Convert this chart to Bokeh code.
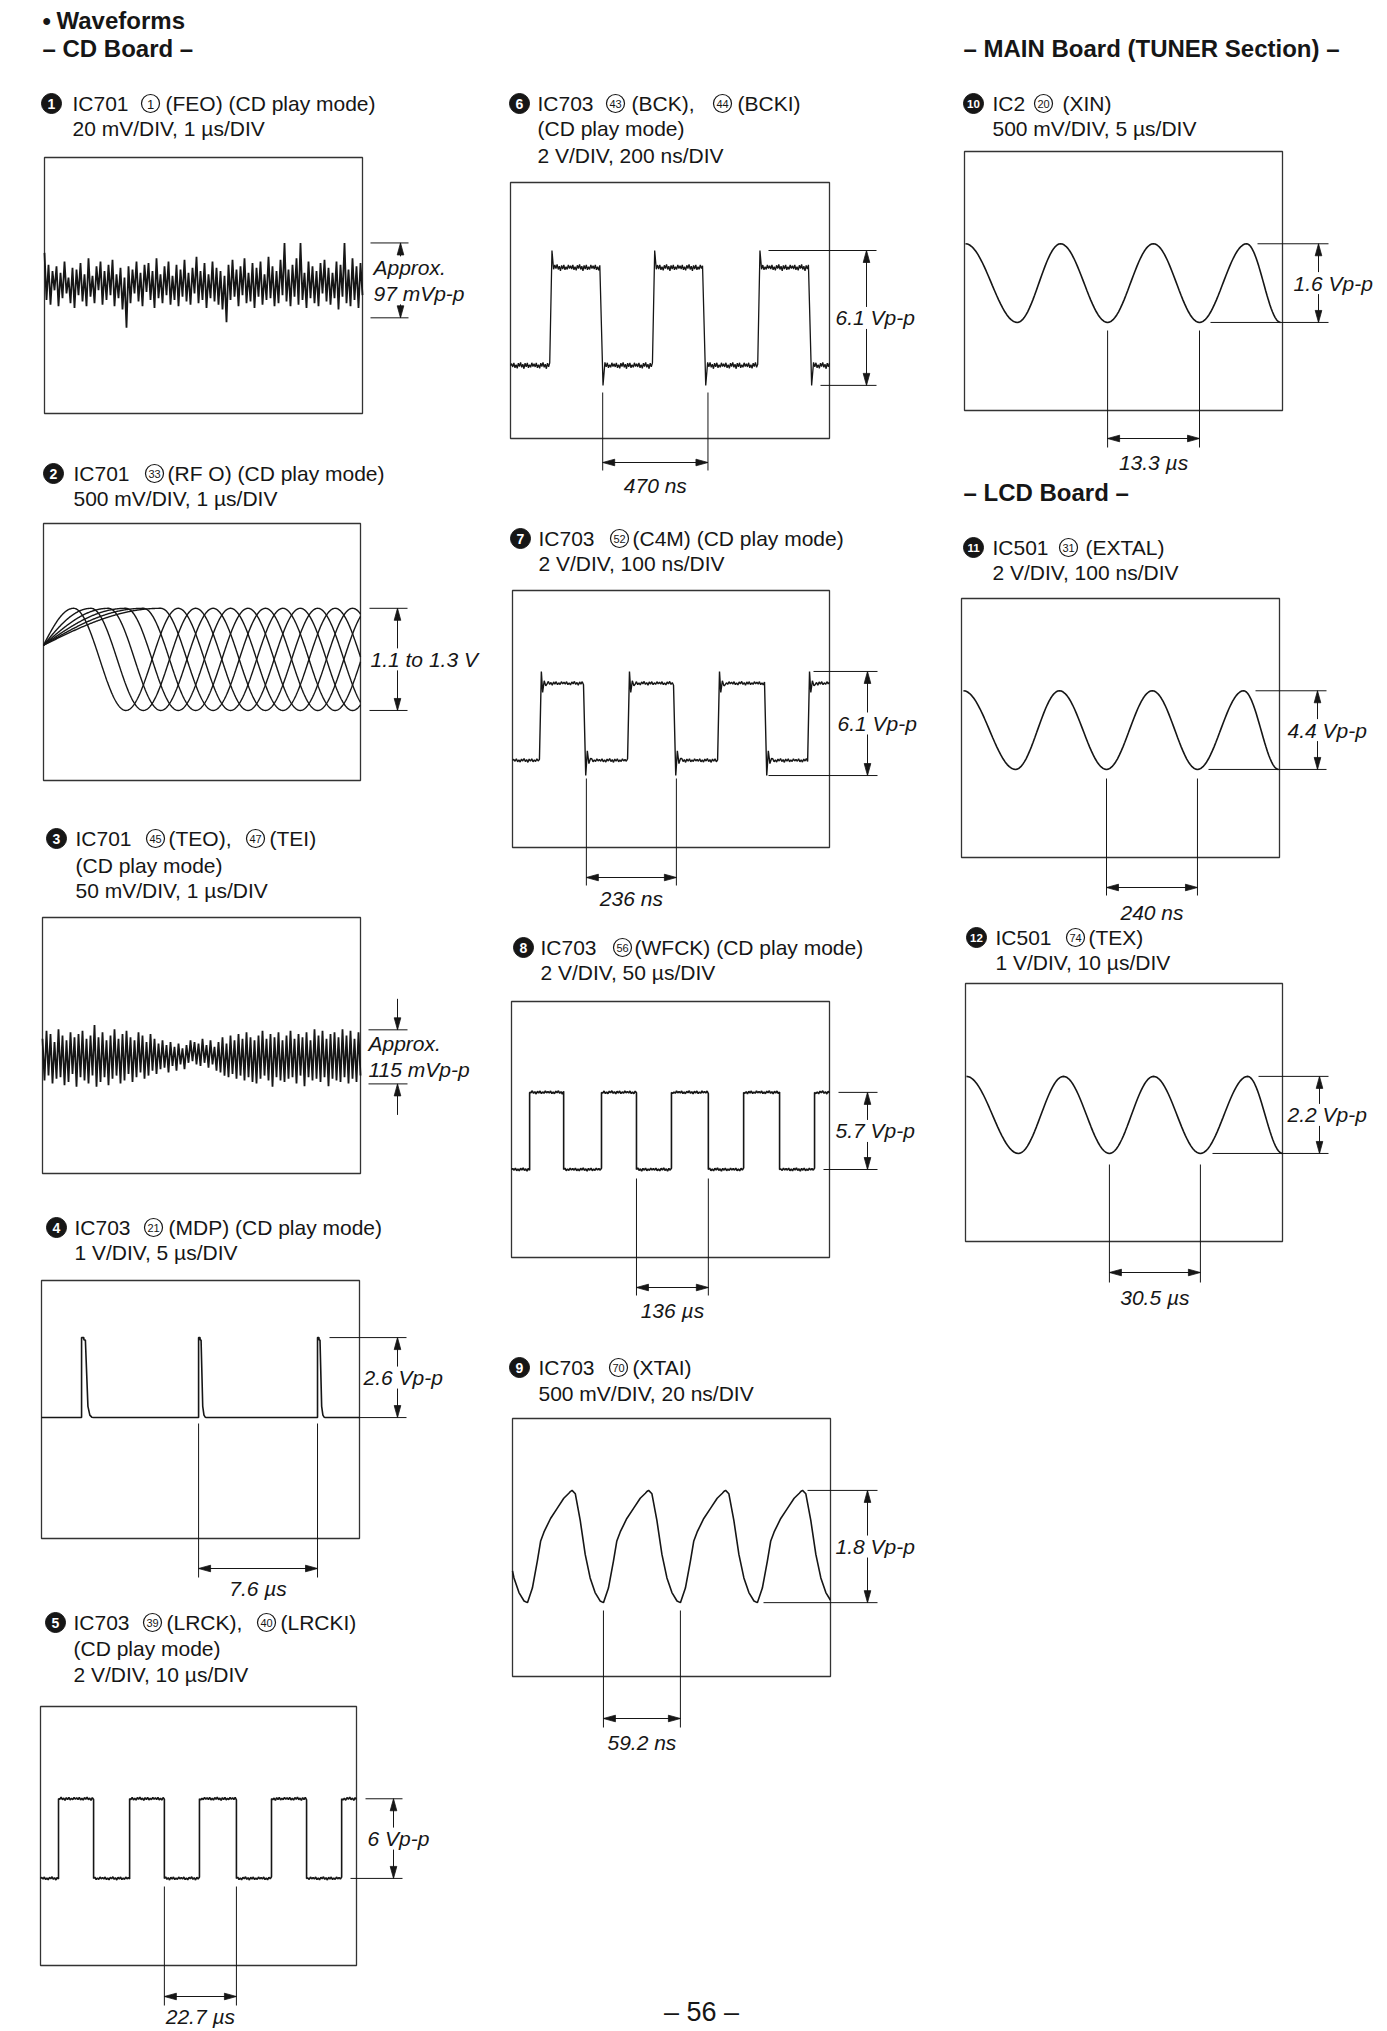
import numpy as np
from bokeh.plotting import figure
from bokeh.layouts import column, row
from bokeh.models import Range1d
from bokeh.core.properties import value
from bokeh.embed import file_html
from bokeh.resources import INLINE

FONT = "Liberation Sans"
INK = "#161616"
FRAME = "#333333"
TITLE_SIZE = "21px"
HEAD_SIZE = "24px"
LABEL_SIZE = "21px"

# ---------------- values read from the page (scope units: 10 x 8 divisions) ----------------
# 1  IC701 (FEO) noise, offsets in 0.01 div around the centre line
FEO_CENTER = 4.05
FEO_LEVELS = [5.33, 2.99]
FEO_NOISE = [97, -50, 60, -65, 40, -20, 55, -70, 35, -45, 70, -30, 20, -60, 50, -75, 45, -35, 65, -55,
             30, -70, 80, -40, 25, -60, 55, -20, 70, -65, 40, -50, 60, -35, 75, -70, 30, -45, 50, -80,
             20, -137, 55, -60, 45, -30, 70, -55, 35, -70, 60, -25, 65, -50, 40, -75, 80, -45, 30, -60,
             55, -35, 70, -65, 25, -50, 60, -70, 45, -40, 75, -55, 35, -65, 50, -30, 85, -60, 40, -50,
             65, -75, 30, -45, 70, -55, 50, -65, 40, -80, 25, -120, 60, -50, 75, -40, 45, -70, 55, -35,
             80, -60, 35, -55, 65, -75, 50, -40, 70, -65, 30, -50, 85, -45, 55, -70, 40, -60, 75, -35,
             128, -55, 45, -70, 60, -40, 80, -65, 128, -50, 35, -75, 70, -45, 55, -60, 40, -70, 65, -30,
             75, -55, 50, -65, 35, -45, 70, -80, 60, -40, 128, -60, 45, -70, 80, -50, 55, -75, 65, -35]

# 2  IC701 (RF O) eye pattern
RF_TOP, RF_BOTTOM = 5.36, 2.18
RF_START = 4.21
RF_FIRST_PEAK = 0.95
RF_PERIOD = 3.3
RF_TRACES = 6

# 3  IC701 (TEO)/(TEI) noise
TEO_CENTER = 3.61
TEO_LEVELS = [4.49, 2.80]
TEO_NOISE = [60, -70, 85, -55, 75, -80, 50, -65, 90, -60, 70, -85, 55, -75, 80, -50, 65, -90, 75, -60,
             85, -70, 60, -80, 70, -55, 103, -90, 65, -75, 80, -60, 55, -85, 70, -65, 90, -55, 60, -80,
             75, -70, 85, -50, 65, -75, 55, -60, 80, -45, 70, -65, 50, -55, 75, -40, 60, -50, 45, -35,
             55, -30, 40, -45, 50, -25, 35, -40, 45, -20, 30, -35, 40, -15, 55, -10, 50, -20, 45, -25,
             60, -15, 40, -30, 55, -20, 35, -40, 50, -45, 65, -55, 45, -60, 70, -50, 55, -65, 75, -55,
             60, -70, 80, -60, 65, -75, 55, -80, 70, -65, 85, -55, 60, -70, 75, -90, 65, -60, 80, -70,
             55, -75, 70, -65, 85, -60, 60, -80, 75, -55, 65, -88, 80, -60, 55, -70, 90, -65, 70, -75,
             85, -60, 60, -88, 75, -65, 80, -70, 65, -75, 90, -60, 70, -80, 85, -65, 60, -75, 80, -55]

# 4  IC703 (MDP) pulses
MDP_BASE, MDP_TOP = 3.75, 6.23
MDP_RISES = [1.26, 4.94, 8.68]
MDP_WIDTHS = [1.0, 0.65, 0.65]
PULSE_DX = [0.0, 0.07, 0.075, 0.12, 0.20, 0.26, 0.32, 0.38]
PULSE_LEVEL = [1.0, 1.0, 0.97, 0.97, 0.14, 0.03, 0.005, 0.0]

# 5  IC703 (LRCK)
LRCK_HIGH, LRCK_LOW = 5.15, 2.69
LRCK_EDGES = [0.57, 1.68, 2.82, 3.92, 5.03, 6.20, 7.31, 8.42, 9.53]
LRCK_MARKS = [3.92, 6.20]

# 6  IC703 (BCK)
BCK_HIGH, BCK_LOW, BCK_OVER, BCK_UNDER = 5.34, 2.28, 5.875, 1.66
BCK_EDGES = [1.23, 2.80, 4.45, 6.02, 7.75, 9.34]
BCK_MARKS = [2.89, 6.19]

# 7  IC703 (C4M)
C4M_HIGH, C4M_LOW, C4M_OVER, C4M_UNDER = 5.11, 2.71, 5.48, 2.24
C4M_EDGES = [0.85, 2.24, 3.63, 5.08, 6.47, 7.95, 9.31]
C4M_MARKS = [2.33, 5.17]

# 8  IC703 (WFCK)
WFCK_HIGH, WFCK_LOW = 5.16, 2.75
WFCK_EDGES = [0.57, 1.64, 2.83, 3.93, 5.03, 6.19, 7.30, 8.43, 9.53]
WFCK_MARKS = [3.93, 6.19]

# 9  IC703 (XTAI): one period (phase fraction -> level fraction)
XTAI_PEAK, XTAI_TROUGH = 5.77, 2.29
XTAI_TROUGHS = [0.47, 2.86, 5.28, 7.70]
XTAI_PERIOD = 2.42
XTAI_PHASE = [0.0, 0.065, 0.13, 0.174, 0.218, 0.304, 0.391, 0.478, 0.545, 0.565, 0.587, 0.63,
              0.695, 0.76, 0.825, 0.89, 0.956, 1.0]
XTAI_LEVEL = [0.0, 0.13, 0.37, 0.55, 0.63, 0.75, 0.84, 0.93, 0.975, 0.99, 1.0, 0.97,
              0.73, 0.43, 0.22, 0.09, 0.015, 0.0]
XTAI_MARKS = [2.86, 5.28]

# 10-12 sine waves: x of successive peak / trough
XIN_PEAK, XIN_TROUGH = 5.15, 2.72
XIN_EXTREMA = [0.03, 1.66, 3.02, 4.50, 5.94, 7.39, 8.87, 9.94]
EXTAL_PEAK, EXTAL_TROUGH = 5.15, 2.72
EXTAL_EXTREMA = [0.06, 1.70, 3.08, 4.56, 6.00, 7.42, 8.87, 9.97]
TEX_PEAK, TEX_TROUGH = 5.12, 2.73
TEX_EXTREMA = [0.03, 1.67, 3.09, 4.54, 5.93, 7.41, 8.90, 10.0]

FLAT_NOISE = [4, -3, 6, -5, 2, -6, 5, -2, 7, -4, 3, -7, 5, -3, 6, -5, 2, -4, 6, -2]

# ---------------- page layout (page pixels) ----------------
PANELS = {
    1: dict(fig=(0, 0, 490, 440), box=(44, 157, 318, 256), bullet=(51, 103, "1"),
            texts=[(72, 103, "IC701"), (165, 103, "(FEO) (CD play mode)"), (72, 128, "20 mV/DIV, 1 µs/DIV")],
            rings=[(150, 103, "1")]),
    2: dict(fig=(0, 440, 490, 360), box=(43, 523, 317, 257), bullet=(53, 473, "2"),
            texts=[(73, 473, "IC701"), (167, 473, "(RF O) (CD play mode)"), (73, 498, "500 mV/DIV, 1 µs/DIV")],
            rings=[(154, 473, "33")]),
    3: dict(fig=(0, 800, 490, 390), box=(42, 917, 318, 256), bullet=(56, 838, "3"),
            texts=[(75, 838, "IC701"), (168, 838, "(TEO),"), (269, 838, "(TEI)"),
                   (75, 865, "(CD play mode)"), (75, 890, "50 mV/DIV, 1 µs/DIV")],
            rings=[(155, 838, "45"), (255, 838, "47")]),
    4: dict(fig=(0, 1190, 490, 414), box=(41, 1280, 318, 258), bullet=(56, 1227, "4"),
            texts=[(74, 1227, "IC703"), (168, 1227, "(MDP) (CD play mode)"), (74, 1252, "1 V/DIV, 5 µs/DIV")],
            rings=[(153, 1227, "21")]),
    5: dict(fig=(0, 1604, 490, 425), box=(40, 1706, 316, 259), bullet=(55, 1622, "5"),
            texts=[(73, 1622, "IC703"), (166, 1622, "(LRCK),"), (280, 1622, "(LRCKI)"),
                   (73, 1648, "(CD play mode)"), (73, 1674, "2 V/DIV, 10 µs/DIV")],
            rings=[(152, 1622, "39"), (266, 1622, "40")]),
    6: dict(fig=(490, 0, 440, 505), box=(510, 182, 319, 256), bullet=(519, 103, "6"),
            texts=[(537, 103, "IC703"), (631, 103, "(BCK),"), (737, 103, "(BCKI)"),
                   (537, 128, "(CD play mode)"), (537, 155, "2 V/DIV, 200 ns/DIV")],
            rings=[(615, 103, "43"), (722, 103, "44")]),
    7: dict(fig=(490, 505, 440, 410), box=(512, 590, 317, 257), bullet=(520, 538, "7"),
            texts=[(538, 538, "IC703"), (632, 538, "(C4M) (CD play mode)"), (538, 563, "2 V/DIV, 100 ns/DIV")],
            rings=[(619, 538, "52")]),
    8: dict(fig=(490, 915, 440, 415), box=(511, 1001, 318, 256), bullet=(523, 947, "8"),
            texts=[(540, 947, "IC703"), (634, 947, "(WFCK) (CD play mode)"), (540, 972, "2 V/DIV, 50 µs/DIV")],
            rings=[(622, 947, "56")]),
    9: dict(fig=(490, 1330, 440, 699), box=(512, 1418, 318, 258), bullet=(519, 1367, "9"),
            texts=[(538, 1367, "IC703"), (632, 1367, "(XTAI)"), (538, 1393, "500 mV/DIV, 20 ns/DIV")],
            rings=[(618, 1367, "70")]),
    10: dict(fig=(930, 0, 455, 476), box=(964, 151, 318, 259), bullet=(973, 103, "10"),
             texts=[(992, 103, "IC2"), (1062, 103, "(XIN)"), (992, 128, "500 mV/DIV, 5 µs/DIV")],
             rings=[(1043, 103, "20")]),
    11: dict(fig=(930, 476, 455, 449), box=(961, 598, 318, 259), bullet=(973, 547, "11"),
             texts=[(992, 547, "IC501"), (1085, 547, "(EXTAL)"), (992, 572, "2 V/DIV, 100 ns/DIV")],
             rings=[(1068, 547, "31")]),
    12: dict(fig=(930, 925, 455, 405), box=(965, 983, 317, 258), bullet=(976, 937, "12"),
             texts=[(995, 937, "IC501"), (1088, 937, "(TEX)"), (995, 962, "1 V/DIV, 10 µs/DIV")],
             rings=[(1075, 937, "74")]),
}


def make_fig(spec):
    X0, Y0, W, H = spec["fig"]
    bx, by, bw, bh = spec["box"]
    sx, sy = bw / 10.0, bh / 8.0
    p = figure(width=W, height=H,
               x_range=Range1d((X0 - bx) / sx, (X0 + W - bx) / sx),
               y_range=Range1d((by + bh - (Y0 + H)) / sy, (by + bh - Y0) / sy),
               output_backend="svg", toolbar_location=None, min_border=0,
               x_axis_location=None, y_axis_location=None,
               outline_line_color=None, background_fill_color="white",
               border_fill_color="white")
    p.grid.visible = False
    g = dict(p=p, sx=sx, sy=sy,
             cx=lambda px: (px - bx) / sx,
             cy=lambda py: (by + bh - py) / sy)
    p.quad(left=[0], right=[10], bottom=[0], top=[8], fill_color=None,
           line_color=FRAME, line_width=1.3)
    return g


def text_at(g, x, y, s, size=TITLE_SIZE, style="normal", align="left", color=INK):
    g["p"].text(x=[x], y=[y], text=[s], text_font=value(FONT), text_font_size=size,
                text_font_style=style, text_align=align, text_baseline="middle",
                text_color=color)


def put_text(g, px, py, s, **kw):
    text_at(g, g["cx"](px), g["cy"](py), s, **kw)


def draw_title(g, spec):
    p = g["p"]
    bxp, byp, num = spec["bullet"]
    p.scatter([g["cx"](bxp)], [g["cy"](byp)], size=20, marker="circle",
              fill_color=INK, line_color=INK)
    put_text(g, bxp, byp + 0.5, num, size="14px" if len(num) == 1 else "11.5px",
             style="bold", align="center", color="white")
    for (px, py, s) in spec["texts"]:
        put_text(g, px, py, s)
    for (px, py, s) in spec["rings"]:
        p.scatter([g["cx"](px)], [g["cy"](py)], size=18, marker="circle",
                  fill_color=None, line_color=INK, line_width=1.2)
        put_text(g, px, py + 0.5, s, size="13px" if len(s) == 1 else "11px", align="center")


def head(g, x, y, d, L=12.0, hw=3.3):
    sx, sy = g["sx"], g["sy"]
    if d == "up":
        xs, ys = [x, x - hw / sx, x + hw / sx], [y, y - L / sy, y - L / sy]
    elif d == "down":
        xs, ys = [x, x - hw / sx, x + hw / sx], [y, y + L / sy, y + L / sy]
    elif d == "left":
        xs, ys = [x, x + L / sx, x + L / sx], [y, y + hw / sy, y - hw / sy]
    else:
        xs, ys = [x, x - L / sx, x - L / sx], [y, y + hw / sy, y - hw / sy]
    g["p"].patch(xs, ys, fill_color=INK, line_color=INK, line_width=0.8)


def vbracket(g, spec, ytop, ybot, labels, outward=True):
    p, cx, sy = g["p"], g["cx"], g["sy"]
    ux0, lx0, x1, ax, lx = spec
    p.segment(x0=[cx(ux0), cx(lx0)], y0=[ytop, ybot], x1=[cx(x1), cx(x1)], y1=[ytop, ybot],
              line_color=INK, line_width=1.0)
    a = cx(ax)
    mid = (ytop + ybot) / 2.0
    n = len(labels)
    if outward:
        half = (11 + 13 * (n - 1)) / sy
        p.segment(x0=[a, a], y0=[ytop, ybot], x1=[a, a], y1=[mid + half, mid - half],
                  line_color=INK, line_width=1.0)
        head(g, a, ytop, "up")
        head(g, a, ybot, "down")
    else:
        ext = 31 / sy
        p.segment(x0=[a, a], y0=[ytop + ext, ybot - ext], x1=[a, a], y1=[ytop, ybot],
                  line_color=INK, line_width=1.0)
        head(g, a, ytop, "down")
        head(g, a, ybot, "up")
    for i, s in enumerate(labels):
        off = 13 * (n - 1) - 26 * i
        text_at(g, cx(lx), mid + off / sy, s, size=LABEL_SIZE, style="italic")


def tmarks(g, xs, spec, label):
    p, cy = g["p"], g["cy"]
    y0, y1, ya, yl = spec
    p.segment(x0=list(xs), y0=[cy(y0)] * 2, x1=list(xs), y1=[cy(y1)] * 2,
              line_color=INK, line_width=1.0)
    p.segment(x0=[xs[0]], y0=[cy(ya)], x1=[xs[1]], y1=[cy(ya)], line_color=INK, line_width=1.0)
    head(g, xs[0], cy(ya), "left")
    head(g, xs[1], cy(ya), "right")
    text_at(g, (xs[0] + xs[1]) / 2.0, cy(yl), label, size=LABEL_SIZE, style="italic", align="center")


def square_wave(edges, hi, lo, amp, step=0.04, rise=None, fall=None):
    xs, ys = [0.0], [lo]
    state_hi = False
    bounds = [0.0] + list(edges) + [10.0]
    for i in range(len(bounds) - 1):
        a, b = bounds[i], bounds[i + 1]
        lvl = hi if state_hi else lo
        start = a
        if i > 0:
            shape = rise if state_hi else fall
            if shape:
                for dx, yy in shape:
                    xs.append(a + dx)
                    ys.append(yy)
                start = a + shape[-1][0]
            else:
                xs.append(a)
                ys.append(lvl)
        n = max(int((b - start) / step), 1)
        for j, xx in enumerate(np.linspace(start, b, n + 1)[1:]):
            xs.append(float(xx))
            ys.append(lvl + amp * FLAT_NOISE[(j + 7 * i) % len(FLAT_NOISE)] / 7.0)
        state_hi = not state_hi
    return xs, ys


def extrema_wave(ext, peak, trough):
    xs, ys = [], []
    lv = [peak if i % 2 == 0 else trough for i in range(len(ext))]
    t = np.linspace(0, 1, 26)
    for i in range(len(ext) - 1):
        a, b = lv[i], lv[i + 1]
        xs += list(ext[i] + t * (ext[i + 1] - ext[i]))
        ys += list((a + b) / 2 + (a - b) / 2 * np.cos(np.pi * t))
    return xs, ys


WAVE = dict(line_color=INK, line_width=1.6)

figs = {k: make_fig(v) for k, v in PANELS.items()}
for k, v in PANELS.items():
    draw_title(figs[k], v)

# headings
g = figs[1]
put_text(g, 42, 20, "•", size=HEAD_SIZE, style="bold")
put_text(g, 56, 20, "Waveforms", size=HEAD_SIZE, style="bold")
put_text(g, 42, 48, "– CD Board –", size=HEAD_SIZE, style="bold")
put_text(figs[10], 963, 48, "– MAIN Board (TUNER Section) –", size=HEAD_SIZE, style="bold")
put_text(figs[11], 963, 492, "– LCD Board –", size=HEAD_SIZE, style="bold")
put_text(figs[9], 701, 2011, "– 56 –", size="27px", align="center")

# 1 FEO
g = figs[1]
x = np.linspace(0, 10, len(FEO_NOISE))
g["p"].line(x, FEO_CENTER + np.array(FEO_NOISE) / 100.0, line_color=INK, line_width=1.8)
vbracket(g, (370, 370, 408, 400, 373), FEO_LEVELS[0], FEO_LEVELS[1], ["Approx.", "97 mVp-p"])

# 2 RF eye
g = figs[2]
c = (RF_TOP + RF_BOTTOM) / 2.0
A = (RF_TOP - RF_BOTTOM) / 2.0
f0 = (RF_START - c) / A
x = np.linspace(0, 10, 600)
mx, my = [], []
for k in range(RF_TRACES):
    xk = RF_FIRST_PEAK + k * RF_PERIOD / RF_TRACES
    y = np.where(x < xk, c + A * (f0 + (1 - f0) * np.sin(np.pi / 2 * x / xk)),
                 c + A * np.cos(2 * np.pi * (x - xk) / RF_PERIOD))
    mx.append(list(x))
    my.append(list(y))
g["p"].multi_line(mx, my, line_color=INK, line_width=1.4)
vbracket(g, (369, 369, 407, 397, 370), RF_TOP, RF_BOTTOM, ["1.1 to 1.3 V"])

# 3 TEO
g = figs[3]
x = np.linspace(0, 10, len(TEO_NOISE))
g["p"].line(x, TEO_CENTER + np.array(TEO_NOISE) / 100.0, line_color=INK, line_width=1.8)
vbracket(g, (368, 368, 407, 397, 368), TEO_LEVELS[0], TEO_LEVELS[1], ["Approx.", "115 mVp-p"],
         outward=False)

# 4 MDP
g = figs[4]
xs, ys = [0.0], [MDP_BASE]
h = MDP_TOP - MDP_BASE
for r, w in zip(MDP_RISES, MDP_WIDTHS):
    xs.append(r)
    ys.append(MDP_BASE)
    for dx, lv in zip(PULSE_DX, PULSE_LEVEL):
        xs.append(r + dx * w)
        ys.append(MDP_BASE + lv * h)
xs.append(10.0)
ys.append(MDP_BASE)
g["p"].line(xs, ys, **WAVE)
vbracket(g, (329, 358, 406, 397, 363), MDP_TOP, MDP_BASE, ["2.6 Vp-p"])
tmarks(g, MDP_RISES[1:], (1423, 1577, 1568, 1588), "7.6 µs")

# 5 LRCK
g = figs[5]
xs, ys = square_wave(LRCK_EDGES, LRCK_HIGH, LRCK_LOW, 0.05)
g["p"].line(xs, ys, **WAVE)
vbracket(g, (365, 350, 402, 393, 367), LRCK_HIGH, LRCK_LOW, ["6 Vp-p"])
tmarks(g, LRCK_MARKS, (1886, 2005, 1996, 2016), "22.7 µs")

# 6 BCK
g = figs[6]
BCK_RISE = [(0.07, BCK_OVER), (0.12, BCK_HIGH - 0.05), (0.16, BCK_HIGH + 0.08)]
BCK_FALL = [(0.10, BCK_UNDER), (0.16, BCK_LOW + 0.1), (0.20, BCK_LOW - 0.04)]
xs, ys = square_wave(BCK_EDGES, BCK_HIGH, BCK_LOW, 0.1, step=0.035, rise=BCK_RISE, fall=BCK_FALL)
g["p"].line(xs, ys, line_color=INK, line_width=1.3)
vbracket(g, (768, 820, 876, 866, 835), BCK_OVER, BCK_UNDER, ["6.1 Vp-p"])
tmarks(g, BCK_MARKS, (392, 470, 462, 485), "470 ns")

# 7 C4M
g = figs[7]
C4M_RISE = [(0.06, C4M_OVER), (0.10, C4M_HIGH - 0.28), (0.15, C4M_HIGH + 0.08), (0.20, C4M_HIGH - 0.08)]
C4M_FALL = [(0.07, C4M_UNDER), (0.12, C4M_LOW + 0.3), (0.17, C4M_LOW - 0.1), (0.22, C4M_LOW + 0.06)]
xs, ys = square_wave(C4M_EDGES, C4M_HIGH, C4M_LOW, 0.06, step=0.04, rise=C4M_RISE, fall=C4M_FALL)
g["p"].line(xs, ys, line_color=INK, line_width=1.4)
vbracket(g, (813, 768, 877, 867, 837), C4M_OVER, C4M_UNDER, ["6.1 Vp-p"])
tmarks(g, C4M_MARKS, (778, 885, 877, 898), "236 ns")

# 8 WFCK
g = figs[8]
xs, ys = square_wave(WFCK_EDGES, WFCK_HIGH, WFCK_LOW, 0.05)
g["p"].line(xs, ys, **WAVE)
vbracket(g, (838, 823, 877, 867, 835), WFCK_HIGH, WFCK_LOW, ["5.7 Vp-p"])
tmarks(g, WFCK_MARKS, (1178, 1295, 1287, 1310), "136 µs")

# 9 XTAI
g = figs[9]
starts = [XTAI_TROUGHS[0] - XTAI_PERIOD] + XTAI_TROUGHS
ends = starts[1:] + [starts[-1] + XTAI_PERIOD]
xs, ys = [], []
for t0, t1 in zip(starts, ends):
    for ph, lv in zip(XTAI_PHASE[:-1], XTAI_LEVEL[:-1]):
        xs.append(t0 + ph * (t1 - t0))
        ys.append(XTAI_TROUGH + lv * (XTAI_PEAK - XTAI_TROUGH))
xs.append(ends[-1])
ys.append(XTAI_TROUGH)
xs, ys = np.array(xs), np.array(ys)
keep = (xs > 0) & (xs < 10)
cx_ = [0.0] + list(xs[keep]) + [10.0]
cy_ = [float(np.interp(0.0, xs, ys))] + list(ys[keep]) + [float(np.interp(10.0, xs, ys))]
g["p"].line(cx_, cy_, **WAVE)
vbracket(g, (807, 763, 877, 867, 835), XTAI_PEAK, XTAI_TROUGH, ["1.8 Vp-p"])
tmarks(g, XTAI_MARKS, (1610, 1727, 1718, 1742), "59.2 ns")

# 10 XIN
g = figs[10]
xs, ys = extrema_wave(XIN_EXTREMA, XIN_PEAK, XIN_TROUGH)
g["p"].line(xs, ys, **WAVE)
vbracket(g, (1257, 1210, 1328, 1318, 1293), XIN_PEAK, XIN_TROUGH, ["1.6 Vp-p"])
tmarks(g, [XIN_EXTREMA[3], XIN_EXTREMA[5]], (330, 447, 438, 462), "13.3 µs")

# 11 EXTAL
g = figs[11]
xs, ys = extrema_wave(EXTAL_EXTREMA, EXTAL_PEAK, EXTAL_TROUGH)
g["p"].line(xs, ys, **WAVE)
vbracket(g, (1255, 1208, 1326, 1317, 1287), EXTAL_PEAK, EXTAL_TROUGH, ["4.4 Vp-p"])
tmarks(g, [EXTAL_EXTREMA[3], EXTAL_EXTREMA[5]], (778, 895, 887, 912), "240 ns")

# 12 TEX
g = figs[12]
xs, ys = extrema_wave(TEX_EXTREMA, TEX_PEAK, TEX_TROUGH)
g["p"].line(xs, ys, **WAVE)
vbracket(g, (1258, 1212, 1328, 1319, 1287), TEX_PEAK, TEX_TROUGH, ["2.2 Vp-p"])
tmarks(g, [TEX_EXTREMA[3], TEX_EXTREMA[5]], (1164, 1282, 1272, 1297), "30.5 µs")

col1 = column([figs[k]["p"] for k in (1, 2, 3, 4, 5)], spacing=0)
col2 = column([figs[k]["p"] for k in (6, 7, 8, 9)], spacing=0)
col3 = column([figs[k]["p"] for k in (10, 11, 12)], spacing=0)
layout = row([col1, col2, col3], spacing=0)

open("out.html", "w").write(file_html(layout, INLINE, title="Waveforms"))
